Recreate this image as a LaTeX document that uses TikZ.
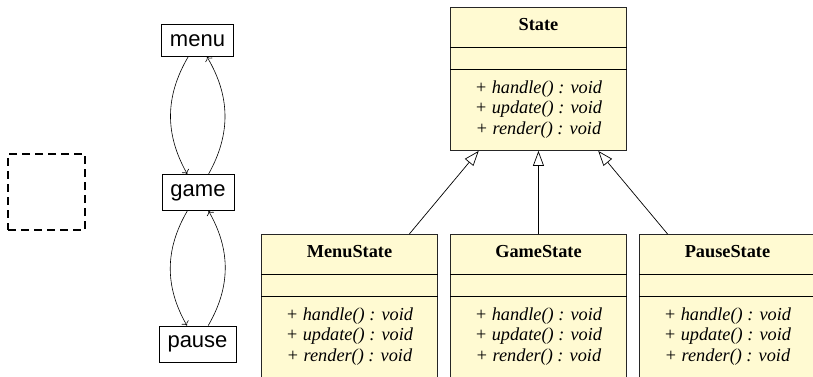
\documentclass[tikz,border=0pt]{standalone}
\usepackage{fontspec}
\setmainfont{Liberation Serif}
\setsansfont{Liberation Sans}
\usetikzlibrary{arrows.meta}
\definecolor{umlfill}{RGB}{255,250,210}
\tikzset{
  cls/.style={draw=black!85, fill=umlfill, line width=0.9pt, minimum width=176pt, minimum height=143pt, anchor=north west, inner sep=0pt},
  sep/.style={draw=black, line width=0.8pt},
  ttl/.style={font=\fontsize{18.3}{22}\selectfont\bfseries, inner sep=0pt, anchor=base},
  mth/.style={font=\fontsize{18.3}{22}\selectfont\itshape, inner sep=0pt, anchor=base},
  statebox/.style={draw, line width=0.8pt, font=\sffamily\fontsize{22}{26}\selectfont, inner xsep=8.5pt, inner ysep=9.8pt},
  trans/.style={-{To[length=4pt,width=8pt]}, line width=0.6pt},
  inh/.style={-{Triangle[open,length=15pt,width=11pt]}, line width=0.7pt},
  blankbox/.style={draw, dashed, dash pattern=on 8pt off 5pt, line width=1.6pt, minimum width=77pt, minimum height=76pt, inner sep=0pt},
}
\newcommand\umlclass[4]{%
  \node[cls] (#1) at (#2,#3) {};
  \draw[sep] ([yshift=-40pt]#1.north west) -- ([yshift=-40pt]#1.north east);
  \draw[sep] ([yshift=-62pt]#1.north west) -- ([yshift=-62pt]#1.north east);
  \node[ttl] (#1-t) at ([yshift=-23.5pt]#1.north) {#4};
  \node[mth] (#1-a) at ([yshift=-86pt]#1.north) {+ handle() : void};
  \node[mth] (#1-b) at ([yshift=-106.7pt]#1.north) {+ update() : void};
  \node[mth] (#1-c) at ([yshift=-127.7pt]#1.north) {+ render() : void};
}
\begin{document}
\begin{tikzpicture}[x=1pt,y=-1pt]
  \useasboundingbox (0,0) rectangle (813,376);
  \clip (0,0) rectangle (813,376);
  % dashed box
  \node[blankbox] (blank) at (46.5,192) {};
  % state machine
  \node[statebox] (menu) at (197.5,40.5) {menu};
  \node[statebox] (game) at (198,192.5) {game};
  \node[statebox] (pause) at (197.5,344) {pause};
  \draw[trans] (menu) to[bend right=30] (game);
  \draw[trans] (game) to[bend right=30] (menu);
  \draw[trans] (game) to[bend right=30] (pause);
  \draw[trans] (pause) to[bend right=30] (game);
  % UML classes
  \umlclass{state}{450}{7}{State}
  \umlclass{menust}{261}{234}{MenuState}
  \umlclass{gamest}{450}{234}{GameState}
  \umlclass{pausest}{639}{234}{PauseState}
  \draw[inh] (menust) -- (state);
  \draw[inh] (gamest) -- (state);
  \draw[inh] (pausest) -- (state);
\end{tikzpicture}
\end{document}
